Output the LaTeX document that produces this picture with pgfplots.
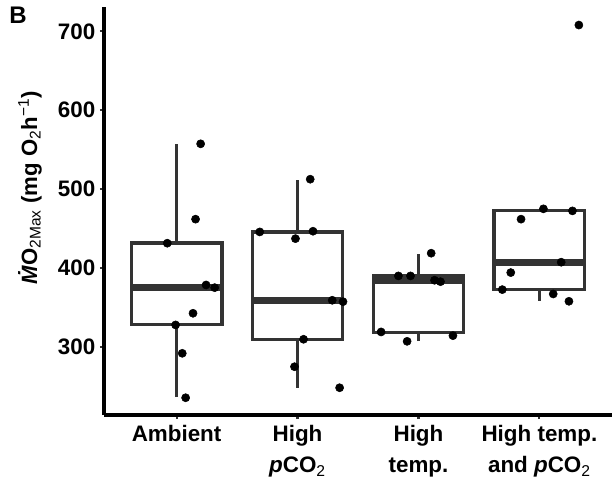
\documentclass[border=0pt]{standalone}
\usepackage{fontspec}
\setmainfont{Liberation Sans}
\usepackage{pgfplots}
\pgfplotsset{compat=1.18}
\definecolor{boxgray}{HTML}{333333}
\pgfplotsset{
  whisk/.style={draw=boxgray, line width=2.4pt, mark=none, forget plot},
  boxs/.style={draw=boxgray, line width=2.4pt, fill=white, line join=miter, mark=none, forget plot},
  med/.style={draw=boxgray, line width=5.2pt, mark=none, forget plot},
}
\begin{document}
\begin{tikzpicture}
\begin{axis}[
  scale only axis,
  width=381pt, height=306pt,
  xmin=0.4, xmax=4.6,
  ymin=213.3, ymax=731,
  axis x line=bottom, axis y line=left,
  axis line style={-, line width=2.4pt, black},
  tick align=outside,
  major tick length=3pt,
  tick style={line width=1.6pt, boxgray},
  xtick={1,2,3,4},
  xticklabels={Ambient, High\\\textbf{\textit{p}}CO\textsubscript{\mdseries 2}, High\\temp., High temp.\\and \textbf{\textit{p}}CO\textsubscript{\mdseries 2}},
  xticklabel style={align=center, font=\bfseries\fontsize{16.8}{23.5}\selectfont, text=black, yshift=-1pt},
  ytick={300,400,500,600,700},
  yticklabel style={font=\bfseries\fontsize{16.8}{19}\selectfont, text=black},
  /pgf/number format/assume math mode=true,
  ylabel style={at={(rel axis cs:0,0.557)}, yshift=55.5pt, anchor=center},
  ylabel={\fontsize{16.6}{19}\selectfont\textbf{\textit{\.{M}}O}\textsubscript{2Max}\textbf{ (mg O}\textsubscript{2}\textbf{h}\textsuperscript{\textminus1}\textbf{)}},
  clip=false,
]
% Ambient: whiskers 236-557, box 328.5-431.5, median 375.5
\addplot[whisk] coordinates {(1,236) (1,328.5)};
\addplot[whisk] coordinates {(1,431.5) (1,557)};
\addplot[boxs] coordinates {(0.625,328.5) (1.375,328.5) (1.375,431.5) (0.625,431.5)} -- cycle;
\addplot[med] coordinates {(0.625,375.5) (1.375,375.5)};
% High pCO2: whiskers 248-512, box 309.6-445.6, median 358.6
\addplot[whisk] coordinates {(2,248) (2,309.6)};
\addplot[whisk] coordinates {(2,445.6) (2,512)};
\addplot[boxs] coordinates {(1.625,309.6) (2.375,309.6) (2.375,445.6) (1.625,445.6)} -- cycle;
\addplot[med] coordinates {(1.625,358.6) (2.375,358.6)};
% High temp: whiskers 307-418, box 317.8-389.8, median 384.5
\addplot[whisk] coordinates {(3,307) (3,317.8)};
\addplot[whisk] coordinates {(3,389.8) (3,418)};
\addplot[boxs] coordinates {(2.625,317.8) (3.375,317.8) (3.375,389.8) (2.625,389.8)} -- cycle;
\addplot[med] coordinates {(2.625,384.5) (3.375,384.5)};
% High temp and pCO2: whiskers 358-474.9, box 372.2-472.7, median 407.2
\addplot[whisk] coordinates {(4,358) (4,372.2)};
\addplot[whisk] coordinates {(4,472.7) (4,474.9)};
\addplot[boxs] coordinates {(3.625,372.2) (4.375,372.2) (4.375,472.7) (3.625,472.7)} -- cycle;
\addplot[med] coordinates {(3.625,407.2) (4.375,407.2)};
% jittered points
\addplot[only marks, mark=*, mark size=3.05pt, black] coordinates {
 (1.199,557.4) (1.157,461.8) (0.923,431.3) (1.244,378.3) (1.315,374.9)
 (1.136,342.4) (0.992,327.6) (1.047,291.6) (1.075,235.2)
 (2.105,512.5) (1.688,445.6) (2.128,446.5) (1.983,437.1) (2.287,358.9)
 (2.376,357.1) (2.050,309.4) (1.975,274.6) (2.348,247.9)
 (3.105,418.6) (2.834,389.8) (2.934,389.8) (3.133,384.3) (3.182,382.5)
 (2.691,318.7) (3.285,314.0) (2.906,306.8)
 (4.326,708.1) (4.033,474.9) (4.273,472.3) (3.848,461.8) (4.180,407.2)
 (3.763,394.0) (3.693,372.4) (4.114,366.9) (4.244,357.6)
};
\node[font=\bfseries\fontsize{18}{20}\selectfont, anchor=center] at (rel axis cs:0,1) [xshift=-64.5pt, yshift=-6pt] {B};
\end{axis}
\pgfresetboundingbox
\path[use as bounding box] (-78pt,-59.25pt) rectangle (381.75pt,311.25pt);
\end{tikzpicture}
\end{document}
